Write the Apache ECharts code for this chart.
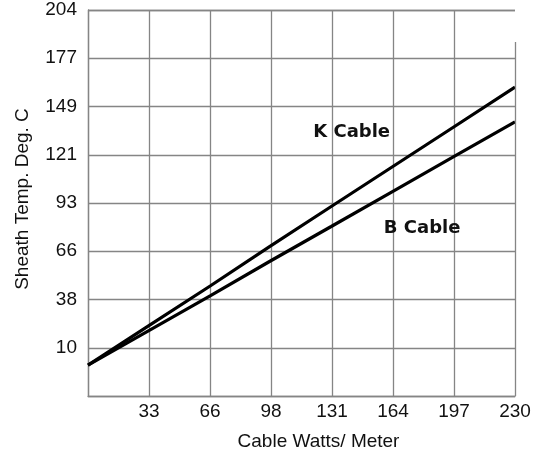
<!DOCTYPE html>
<html>
<head>
<meta charset="utf-8">
<script src="https://cdn.jsdelivr.net/npm/echarts@6/dist/echarts.min.js"></script>
<style>html,body{margin:0;padding:0;background:#fff}#c{width:540px;height:459px}</style>
</head>
<body>
<div id="c"></div>
<script>
// Categories / tick labels
var xTickLabels = ['33', '66', '98', '131', '164', '197', '230'];
var yTickLabels = ['10', '38', '66', '93', '121', '149', '177', '204'];
// Series (x in W/m, y in deg C)
var xValues = [0, 33, 66, 98, 131, 164, 197, 230];
var kCable = [0, 22.9, 45.7, 68.4, 91.3, 114.2, 137.1, 160];
var bCable = [0, 20, 40, 59.8, 79.8, 99.9, 120, 140];
var seriesNames = ['K Cable', 'B Cable'];

var xMin = 0, xMax = 230, xStep = 230 / 7;
var yMin = -160 / 9, yStep = 250 / 9, yMax = yMin + 8 * yStep;

function pairs(ys) { return xValues.map(function (x, i) { return [x, ys[i]]; }); }
var gridColor = '#858585';
var fam = 'Liberation Sans, Arial, sans-serif';
var labelFont = { color: '#111', fontSize: 19, fontFamily: fam };
var tagStyle = { show: true, color: '#111', fontSize: 18, fontWeight: 'bold', fontFamily: 'DejaVu Sans, sans-serif' };

var chart = echarts.init(document.getElementById('c'), null, { renderer: 'canvas' });
chart.setOption({
  animation: false,
  backgroundColor: '#fff',
  grid: { left: 88, right: 25, top: 10, bottom: 63, containLabel: false, outerBoundsMode: 'none' },
  xAxis: {
    type: 'value', min: xMin, max: xMax, interval: xStep,
    name: 'Cable Watts/ Meter', nameLocation: 'middle', nameGap: 36,
    nameTextStyle: { color: '#111', fontSize: 19, fontFamily: fam, padding: [0, 0, 0, 34] },
    axisLine: { show: true, onZero: false, lineStyle: { color: gridColor, width: 1.3 } },
    axisTick: { show: false },
    axisLabel: Object.assign({ margin: 6, showMinLabel: false, formatter: function (v) {
      var i = Math.round((v - xMin) / xStep) - 1; return i >= 0 ? xTickLabels[i] : '';
    } }, labelFont),
    splitLine: { show: true, showMaxLine: false, lineStyle: { color: gridColor, width: 1.3 } }
  },
  yAxis: {
    type: 'value', min: yMin, max: yMax, interval: yStep,
    name: 'Sheath Temp. Deg. C', nameLocation: 'middle', nameGap: 56, nameRotate: 90,
    nameTextStyle: { color: '#111', fontSize: 19, fontFamily: fam, padding: [0, 0, 0, 8] },
    axisLine: { show: true, onZero: false, lineStyle: { color: gridColor, width: 1.3 } },
    axisTick: { show: false },
    axisLabel: Object.assign({ margin: 11, showMinLabel: false, formatter: function (v) {
      var i = Math.round((v - yMin) / yStep) - 1; return i >= 0 ? yTickLabels[i] : '';
    } }, labelFont),
    splitLine: { show: true, lineStyle: { color: gridColor, width: 1.3 } }
  },
  series: [
    {
      name: seriesNames[0], type: 'line', data: pairs(kCable), symbol: 'none',
      lineStyle: { color: '#000', width: 3.2 },
      markPoint: {
        symbol: 'circle', symbolSize: 0,
        label: Object.assign({ formatter: seriesNames[0] }, tagStyle),
        data: [{ coord: [142, 134] }]
      },
      markLine: {
        symbol: 'none', silent: true, label: { show: false },
        lineStyle: { color: gridColor, width: 1.3, type: 'solid' },
        data: [[{ coord: [xMax, 186] }, { coord: [xMax, yMin] }]]
      }
    },
    {
      name: seriesNames[1], type: 'line', data: pairs(bCable), symbol: 'none',
      lineStyle: { color: '#000', width: 3.2 },
      markPoint: {
        symbol: 'circle', symbolSize: 0,
        label: Object.assign({ formatter: seriesNames[1] }, tagStyle),
        data: [{ coord: [180, 79] }]
      }
    }
  ]
});
</script>
</body>
</html>
